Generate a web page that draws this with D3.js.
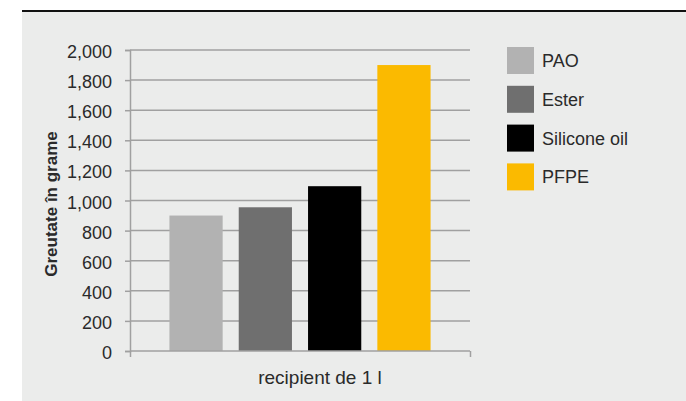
<!DOCTYPE html>
<html>
<head>
<meta charset="utf-8">
<script src="https://cdn.jsdelivr.net/npm/d3@7"></script>
<style>
  html, body { margin: 0; padding: 0; background: #ffffff; }
  svg { display: block; }
  text { font-family: "Liberation Sans", Arial, sans-serif; fill: #2a2a2a; }
</style>
</head>
<body>
<svg id="chart" width="686" height="401"></svg>
<script>
// Weight of a 1 l container filled with each lubricant type
const series = ["PAO", "Ester", "Silicone oil", "PFPE"];
const values = [900, 955, 1095, 1900];
const colors = ["#b2b2b2", "#6f6f6f", "#000000", "#fbba00"];
const yTicks = [0, 200, 400, 600, 800, 1000, 1200, 1400, 1600, 1800, 2000];
const category = "recipient de 1 l";
const yTitle = "Greutate în grame";

const svg = d3.select("#chart");

// panel background and top rule
svg.append("rect").attr("x", 22).attr("y", 11).attr("width", 664).attr("height", 390).attr("fill", "#ebeceb");
svg.append("rect").attr("x", 22).attr("y", 10).attr("width", 664).attr("height", 2).attr("fill", "#111");

const plot = { left: 130, right: 470, top: 50, bottom: 351 };

const y = d3.scaleLinear().domain([0, 2000]).range([plot.bottom, plot.top]);
const x0 = d3.scaleBand().domain([category]).range([plot.left, plot.right]).paddingInner(0).paddingOuter(0.151);
const x1 = d3.scaleBand().domain(series).range([0, x0.bandwidth()]).paddingInner(0.232).paddingOuter(0);

const fmt = d3.format(",");

// horizontal gridlines
svg.append("g").selectAll("line").data(yTicks.filter(d => d > 0)).join("line")
  .attr("x1", plot.left).attr("x2", plot.right)
  .attr("y1", d => y(d)).attr("y2", d => y(d))
  .attr("stroke", "#a0a0a0").attr("stroke-width", 1.5);

// y axis
const yAxis = d3.axisLeft(y).tickValues(yTicks).tickFormat(fmt).tickSize(5).tickPadding(13);
const gy = svg.append("g").attr("transform", `translate(${plot.left},0)`).call(yAxis);
gy.select(".domain").attr("stroke", "#a0a0a0").attr("stroke-width", 1.5);
gy.selectAll(".tick line").attr("stroke", "#a0a0a0").attr("stroke-width", 1.5);
gy.selectAll(".tick text").attr("font-size", 18).attr("fill", "#2a2a2a").attr("dy", "0.42em")
  .style("font-family", '"Liberation Sans", Arial, sans-serif');

// bars
svg.append("g").selectAll("rect").data(series).join("rect")
  .attr("x", (d) => x0(category) + x1(d))
  .attr("width", x1.bandwidth())
  .attr("y", (d, i) => y(values[i]))
  .attr("height", (d, i) => y(0) - y(values[i]))
  .attr("fill", (d, i) => colors[i]);

// x axis
const xAxis = d3.axisBottom(d3.scaleLinear().domain([0, 1]).range([plot.left, plot.right]))
  .tickValues([0, 1]).tickFormat("").tickSize(6);
const gx = svg.append("g").attr("transform", `translate(0,${plot.bottom})`).call(xAxis);
gx.select(".domain").attr("stroke", "#a0a0a0").attr("stroke-width", 1.5).attr("d", `M${plot.left},0H${plot.right}`);
gx.selectAll(".tick line").attr("stroke", "#a0a0a0").attr("stroke-width", 1.5);

svg.append("text")
  .attr("x", 320).attr("y", 384)
  .attr("text-anchor", "middle").attr("font-size", 19)
  .text(category);

// y title
svg.append("text")
  .attr("transform", `translate(57,204) rotate(-90)`)
  .attr("text-anchor", "middle").attr("font-size", 17).attr("font-weight", "bold")
  .attr("fill", "#111")
  .text(yTitle);

// legend
const legend = svg.append("g").attr("transform", "translate(507,47)");
const item = legend.selectAll("g").data(series).join("g")
  .attr("transform", (d, i) => `translate(0,${i * 38.8})`);
item.append("rect").attr("width", 27).attr("height", 27).attr("fill", (d, i) => colors[i]);
item.append("text").attr("x", 35).attr("y", 20).attr("font-size", 18).text(d => d);
</script>
</body>
</html>
